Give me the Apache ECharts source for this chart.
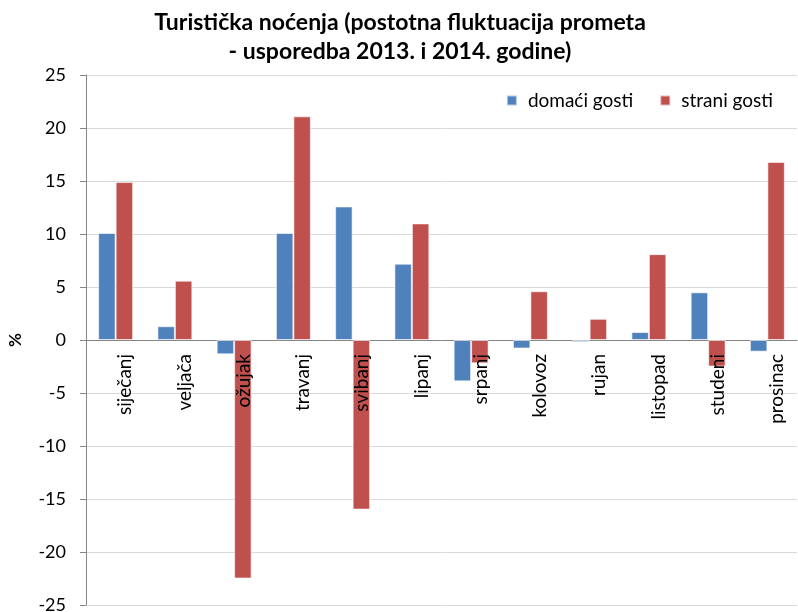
<!DOCTYPE html>
<html>
<head>
<meta charset="utf-8">
<script src="https://cdn.jsdelivr.net/npm/echarts@6/dist/echarts.min.js"></script>
<style>
  html, body { margin: 0; padding: 0; background: #fff; }
  #chart { width: 798px; height: 612px; }
</style>
</head>
<body>
<div id="chart"></div>
<script>
// months and percent changes
var months = ["siječanj", "veljača", "ožujak", "travanj", "svibanj", "lipanj",
  "srpanj", "kolovoz", "rujan", "listopad", "studeni", "prosinac"];
var domaciGosti = [10.1, 1.3, -1.35, 10.1, 12.6, 7.2, -3.9, -0.8, -0.2, 0.75, 4.5, -1.1];
var straniGosti = [14.9, 5.6, -22.5, 21.1, -16.0, 11.0, -2.2, 4.6, 2.0, 8.1, -2.5, 16.8];
var yTicks = { min: -25, max: 25, interval: 5 };

var font = "Lato, 'Open Sans', sans-serif";

var chart = echarts.init(document.getElementById("chart"));

// plot area: top 75, bottom 605 -> zero line sits at the middle (340)
var plotTop = 75, plotBottom = 7;
var zeroFromBottom = 612 - 340;

chart.setOption({
  animation: false,
  textStyle: { fontFamily: font },
  title: {
    text: "Turistička noćenja (postotna fluktuacija prometa\n- usporedba 2013. i 2014. godine)",
    left: 395,
    top: 3,
    textAlign: "center",
    textStyle: { fontFamily: font, fontSize: 23, fontWeight: "bold", color: "#000", lineHeight: 29 }
  },
  legend: {
    right: 20,
    top: 86,
    icon: "rect",
    itemWidth: 10,
    itemHeight: 10,
    itemGap: 26,
    textStyle: { fontFamily: font, fontSize: 19, color: "#000", padding: [0, 0, 0, 6] },
    data: ["domaći gosti", "strani gosti"]
  },
  grid: [
    { left: 86, right: 1, top: plotTop, bottom: plotBottom, outerBoundsMode: "none" },
    // upper half only, so its category axis (the month labels) lies on the zero line
    { left: 86, right: 1, top: plotTop, bottom: zeroFromBottom, outerBoundsMode: "none" }
  ],
  xAxis: [
    {
      type: "category",
      gridIndex: 0,
      data: months,
      axisLine: { onZero: true, lineStyle: { color: "#868686" } },
      axisTick: { show: false },
      axisLabel: { show: false }
    },
    {
      type: "category",
      gridIndex: 1,
      data: months,
      z: 10,
      axisLine: { show: false },
      axisTick: { show: false },
      axisLabel: { rotate: 90, margin: 14, fontSize: 19, color: "#000", interval: 0, verticalAlign: "top" }
    }
  ],
  yAxis: [
    {
      type: "value",
      gridIndex: 0,
      min: yTicks.min,
      max: yTicks.max,
      interval: yTicks.interval,
      name: "%",
      nameLocation: "middle",
      nameRotate: 90,
      nameGap: 62,
      nameTextStyle: { fontFamily: font, fontSize: 17, fontWeight: "bold", color: "#000" },
      axisLine: { show: true, lineStyle: { color: "#868686" } },
      axisTick: { show: true, inside: false, length: 6, lineStyle: { color: "#868686" } },
      axisLabel: { margin: 20, fontSize: 18, color: "#000" },
      splitLine: { lineStyle: { color: "#D9D9D9" } }
    },
    {
      type: "value",
      gridIndex: 1,
      show: false
    }
  ],
  series: [
    {
      name: "domaći gosti",
      type: "bar",
      data: domaciGosti,
      barGap: "0%",
      barCategoryGap: "41%",
      itemStyle: { color: "#4F81BD", borderColor: "rgba(255,255,255,0.6)", borderWidth: 1 }
    },
    {
      name: "strani gosti",
      type: "bar",
      data: straniGosti,
      itemStyle: { color: "#C0504D", borderColor: "rgba(255,255,255,0.6)", borderWidth: 1 }
    }
  ]
});
</script>
</body>
</html>
